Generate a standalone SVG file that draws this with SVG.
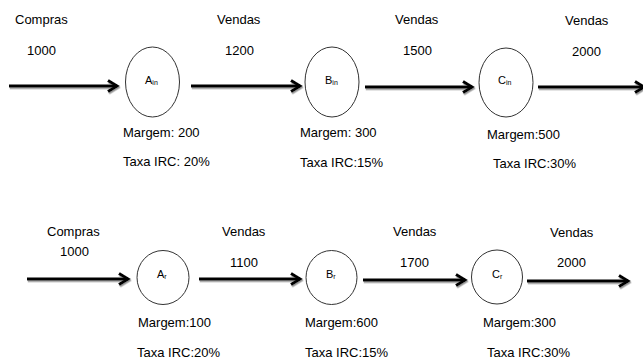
<svg xmlns="http://www.w3.org/2000/svg" width="643" height="361" viewBox="0 0 643 361">
<style>
text { font-family: "Liberation Sans", Arial, sans-serif; font-size: 13px; fill: #000; }
.lbl { font-size: 11px; }
.sub { font-size: 7px; }
.node { fill: #fff; stroke: #333; stroke-width: 1; }
.arrow { stroke: #000; stroke-width: 3; fill: none; marker-end: url(#head); }
</style>
<defs>
<filter id="sh" x="-5%" y="-50%" width="110%" height="200%">
<feDropShadow dx="0.8" dy="1.5" stdDeviation="0.6" flood-color="#888" flood-opacity="0.9"/>
</filter>
<marker id="head" markerUnits="userSpaceOnUse" viewBox="0 0 14 14" refX="11" refY="7" markerWidth="14" markerHeight="14" orient="auto">
<path d="M2,1.5 L11,7 L2,12.5" fill="none" stroke="#000" stroke-width="3" stroke-linejoin="miter"/>
</marker>
</defs>
<rect width="643" height="361" fill="#fff"/>

<g id="connectors" filter="url(#sh)">
<line class="arrow" x1="9" y1="86" x2="117" y2="86"/>
<line class="arrow" x1="191" y1="86" x2="300" y2="86"/>
<line class="arrow" x1="365" y1="87" x2="472" y2="87"/>
<line class="arrow" x1="538" y1="87" x2="644" y2="87"/>
<line class="arrow" x1="27" y1="279" x2="128" y2="279"/>
<line class="arrow" x1="199" y1="279" x2="300" y2="279"/>
<line class="arrow" x1="363" y1="280" x2="465" y2="280"/>
<line class="arrow" x1="527" y1="281" x2="628" y2="281"/>
</g>

<g id="labels">
<text x="15" y="24">Compras</text>
<text x="27" y="55">1000</text>
<text x="217" y="24">Vendas</text>
<text x="225" y="55">1200</text>
<text x="395" y="24">Vendas</text>
<text x="403" y="55">1500</text>
<text x="565" y="25">Vendas</text>
<text x="572" y="56">2000</text>

<text x="47" y="236">Compras</text>
<text x="60" y="256">1000</text>
<text x="222" y="236">Vendas</text>
<text x="230" y="267">1100</text>
<text x="393" y="236">Vendas</text>
<text x="400" y="267">1700</text>
<text x="550" y="237">Vendas</text>
<text x="557" y="267">2000</text>
</g>

<g id="node-Ain">
<ellipse class="node" cx="152.5" cy="82" rx="27" ry="35"/>
<text class="lbl" x="145" y="84">A<tspan class="sub" dy="1">in</tspan></text>
<text x="123" y="137">Margem: 200</text>
<text x="123" y="166">Taxa IRC: 20%</text>
</g>
<g id="node-Bin">
<ellipse class="node" cx="332" cy="82" rx="27" ry="35"/>
<text class="lbl" x="325" y="84">B<tspan class="sub" dy="1">in</tspan></text>
<text x="300" y="137">Margem: 300</text>
<text x="300" y="167">Taxa IRC:15%</text>
</g>
<g id="node-Cin">
<ellipse class="node" cx="506" cy="82.5" rx="27" ry="34.5"/>
<text class="lbl" x="498" y="84">C<tspan class="sub" dy="1">in</tspan></text>
<text x="487" y="139">Margem:500</text>
<text x="493" y="168">Taxa IRC:30%</text>
</g>

<g id="node-Ar">
<ellipse class="node" cx="163" cy="277.5" rx="26" ry="27"/>
<text class="lbl" x="157" y="278">A<tspan class="sub" dy="1">r</tspan></text>
<text x="138" y="327">Margem:100</text>
<text x="137" y="357">Taxa IRC:20%</text>
</g>
<g id="node-Br">
<ellipse class="node" cx="331.5" cy="277.5" rx="25.5" ry="27"/>
<text class="lbl" x="326" y="278">B<tspan class="sub" dy="1">r</tspan></text>
<text x="305" y="327">Margem:600</text>
<text x="305" y="357">Taxa IRC:15%</text>
</g>
<g id="node-Cr">
<ellipse class="node" cx="497" cy="277" rx="25.5" ry="27"/>
<text class="lbl" x="492" y="278">C<tspan class="sub" dy="1">r</tspan></text>
<text x="483" y="327">Margem:300</text>
<text x="487" y="357">Taxa IRC:30%</text>
</g>
</svg>
